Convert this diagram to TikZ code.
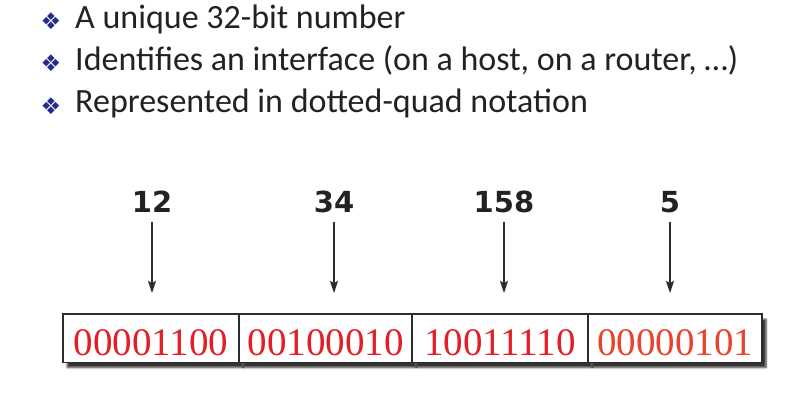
\documentclass[tikz,border=0pt]{standalone}
\usepackage{fontspec}
\setmainfont{Liberation Serif}
\newfontfamily\pointfont{Carlito}
\newfontfamily\octetfont{DejaVu Sans}
\usetikzlibrary{arrows.meta}
\usetikzlibrary{positioning}
\usetikzlibrary{shadows.blur}
\definecolor{textgray}{RGB}{34,34,34}
\definecolor{bulletblue}{RGB}{38,44,140}
\definecolor{bitred}{RGB}{228,30,38}
\definecolor{bitorange}{RGB}{234,66,46}
\definecolor{linegray}{RGB}{45,45,45}
\tikzset{
  x = 1pt,
  y = -1pt,
  point/.style = {anchor=base west, inner sep=0pt, text=textgray,
    font=\fontsize{34}{40}\pointfont},
  bulletmark/.style = {inner sep=0pt, text=bulletblue,
    font=\fontsize{23}{24}\octetfont},
  octet/.style = {inner xsep=0pt, inner ysep=9pt, text=textgray,
    font=\fontsize{29}{32}\octetfont\bfseries},
  cell/.style = {draw=linegray, line width=1.4pt, fill=white, outer sep=0pt,
    inner sep=0pt, minimum height=48.5pt, text height=34pt, text depth=0pt,
    text=bitred, font=\fontsize{39}{42}\selectfont,
    blur shadow={shadow xshift=4pt, shadow yshift=-5pt, shadow blur steps=6,
      shadow opacity=80}},
  pointer/.style = {draw=linegray, line width=1.3pt,
    -{Stealth[length=12pt, width=8pt, inset=2pt]}},
}
\begin{document}
\begin{tikzpicture}
  \useasboundingbox (0,0) rectangle (812,404);
  \node [bulletmark] (m1) at (51,21) {❖};
  \node [bulletmark] (m2) at (51,63) {❖};
  \node [bulletmark] (m3) at (51,106) {❖};
  \node [point] (p1) at (75,29) {A unique 32-bit number};
  \node [point] (p2) at (75,71) {Identifies an interface (on a host, on a router, …)};
  \node [point] (p3) at (75,113) {Represented in dotted-quad notation};
  \node [cell, anchor=north west, minimum width=176pt] (b1) at (63,314) {00001100};
  \node [cell, right = 0pt of b1, minimum width=173pt] (b2) {00100010};
  \node [cell, right = 0pt of b2, minimum width=176pt] (b3) {10011110};
  \node [cell, right = 0pt of b3, minimum width=174pt, text=bitorange] (b4) {00000101};
  \node [octet] (n1) at (152,202) {12};
  \node [octet] (n2) at (334,202) {34};
  \node [octet] (n3) at (504,202) {158};
  \node [octet] (n4) at (670,202) {5};
  \coordinate (tip) at (0,293);
  \draw [pointer] (n1) -- (n1 |- tip);
  \draw [pointer] (n2) -- (n2 |- tip);
  \draw [pointer] (n3) -- (n3 |- tip);
  \draw [pointer] (n4) -- (n4 |- tip);
\end{tikzpicture}
\end{document}
